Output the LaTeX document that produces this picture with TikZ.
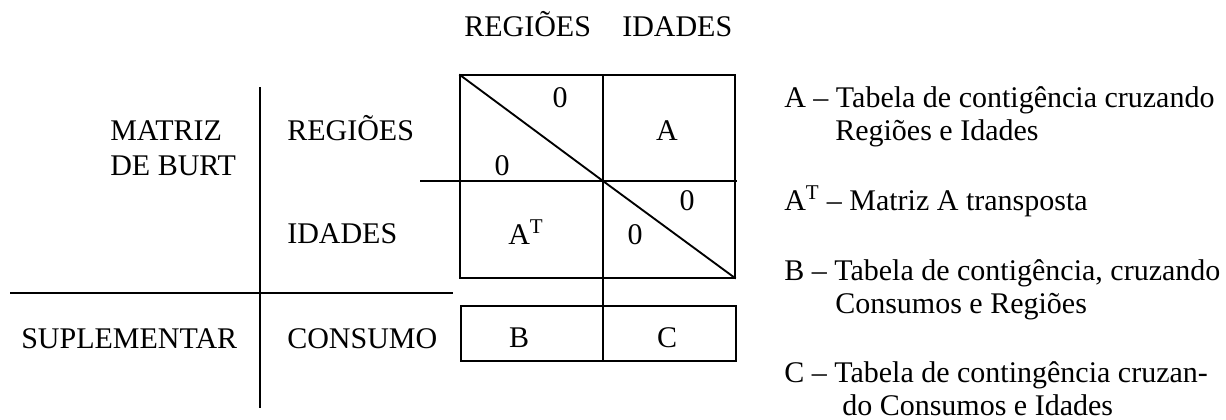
\documentclass[tikz,border=0pt]{standalone}
\usepackage{fontspec}
\setmainfont{Liberation Serif}
\begin{document}
\begin{tikzpicture}[x=0.75pt,y=-0.75pt,
  txt/.style={inner sep=0pt,anchor=base west,font=\fontsize{22.5}{26}\selectfont},
  ctxt/.style={inner sep=0pt,anchor=base,font=\fontsize{22.5}{26}\selectfont},
  rule/.style={line width=1.4pt,line cap=rect}]
\useasboundingbox (0,0) rectangle (1226,419);
% coordinates
\coordinate (tl) at (460,75);
\coordinate (tm) at (603,75);
\coordinate (tr) at (735,75);
\coordinate (ml) at (421,181);
\coordinate (mc) at (603,181);
\coordinate (mr) at (736,181);
\coordinate (bl) at (460,278);
\coordinate (bm) at (603,278);
\coordinate (br) at (735,278);
\coordinate (cbtl) at (461,306);
\coordinate (cbtm) at (603,306);
\coordinate (cbtr) at (736,306);
\coordinate (cbbl) at (461,361);
\coordinate (cbbm) at (603,361);
\coordinate (cbbr) at (736,361);
\coordinate (vt) at (260,88);
\coordinate (vb) at (260,407);
\coordinate (hl) at (11,293);
\coordinate (hr) at (452,293);
% lines
\draw[rule] (vt) -- (vb);
\draw[rule] (hl) -- (hr);
\draw[rule] (tl) -- (tr) -- (br) -- (bl) -- cycle;
\draw[rule] (tm) -- (cbtm);
\draw[rule] (ml) -- (mr);
\draw[rule] (tl) -- (mc) -- (br);
\draw[rule] (cbtl) -- (cbtr) -- (cbbr) -- (cbbl) -- cycle;
\draw[rule] (cbtm) -- (cbbm);
% headers
\node[txt] (hreg) at (464,36) {REGIÕES};
\node[txt] (hida) at (622,36) {IDADES};
\node[txt] (mat1) at (110,140) {MATRIZ};
\node[txt] (mat2) at (110,175) {DE BURT};
\node[txt] (lreg) at (287,140) {REGIÕES};
\node[txt] (lida) at (287,243) {IDADES};
\node[txt] (lsup) at (21,348) {SUPLEMENTAR};
\node[txt] (lcon) at (287,348) {CONSUMO};
% cells
\node[ctxt] (z1) at (560,107) {0};
\node[ctxt] (z2) at (502,175) {0};
\node[ctxt] (z3) at (687,210) {0};
\node[ctxt] (z4) at (635,244) {0};
\node[ctxt] (ca) at (667,140) {A};
\node[txt] (cat) at (508,244) {A\textsuperscript{T}};
\node[ctxt] (cb) at (519,347) {B};
\node[ctxt] (cc) at (667,347) {C};
% legend
\node[txt] (la1) at (784,107) {A – Tabela de contigência cruzando};
\node[txt] (la2) at (835,140) {Regiões e Idades};
\node[txt] (lat) at (784,210) {A\textsuperscript{T} – Matriz A transposta};
\node[txt] (lb1) at (784,280) {B – Tabela de contigência, cruzando};
\node[txt] (lb2) at (835,313) {Consumos e Regiões};
\node[txt] (lc1) at (784,382) {C – Tabela de contingência cruzan-};
\node[txt] (lc2) at (842,415) {do Consumos e Idades};
\end{tikzpicture}
\end{document}
